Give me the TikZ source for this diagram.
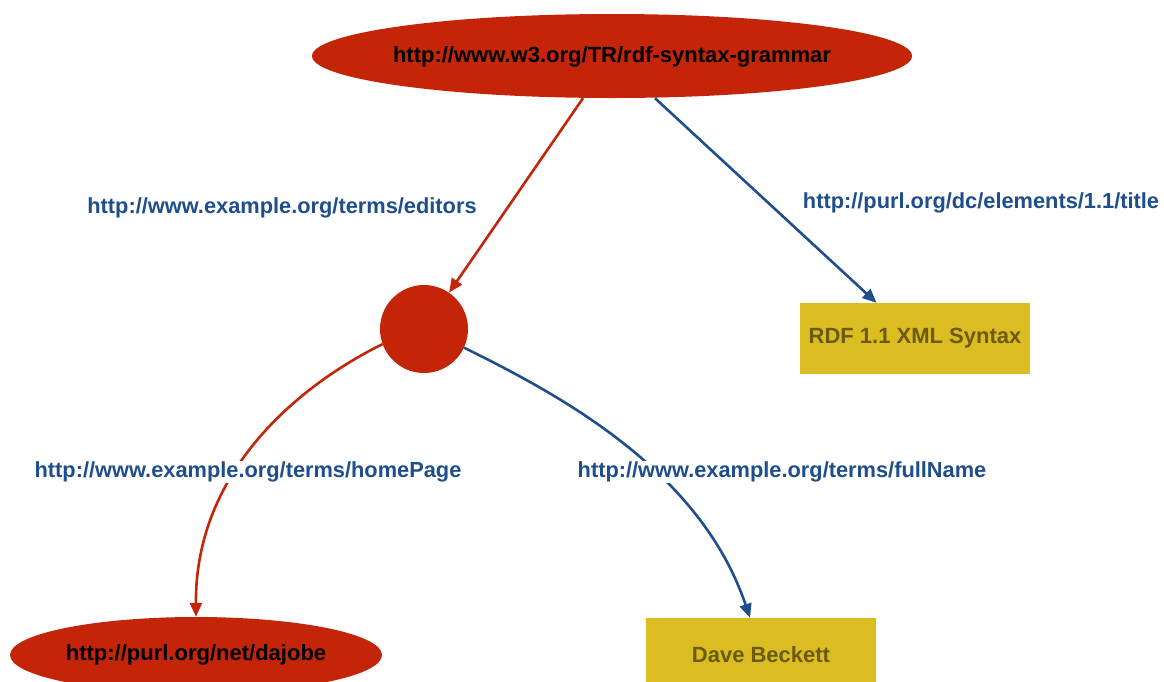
\documentclass[tikz,border=0pt]{standalone}
\usepackage{fontspec}
\setmainfont{Liberation Sans}
\usetikzlibrary{arrows.meta,shapes.geometric,calc}
\definecolor{rdfred}{HTML}{C42508}
\definecolor{rdfyellow}{HTML}{DBBD22}
\definecolor{rdfblue}{HTML}{1F4E8C}
\definecolor{litext}{HTML}{6B5A10}
\tikzset{
  res/.style={ellipse, fill=rdfred, inner sep=0pt},
  restext/.style={text=black, inner sep=0pt, font=\fontsize{22}{26}\selectfont\bfseries},
  blank/.style={circle, fill=rdfred, minimum size=88pt, inner sep=0pt},
  lit/.style={rectangle, fill=rdfyellow, inner sep=0pt},
  littext/.style={text=litext, inner sep=0pt, font=\fontsize{22}{26}\selectfont\bfseries},
  lbl/.style={fill=white, inner sep=1pt, text=rdfblue, font=\fontsize{21.8}{26}\selectfont\bfseries},
  redarc/.style={draw=rdfred, line width=2.6pt, -{Triangle[length=14pt,width=12pt]}},
  bluearc/.style={draw=rdfblue, line width=2.6pt, -{Triangle[length=14pt,width=12pt]}},
}
\begin{document}
\begin{tikzpicture}[x=1pt,y=-1pt]
\useasboundingbox (0,0) rectangle (1164,681);
\clip (0,0) rectangle (1164,681);
\node[res, minimum width=600pt, minimum height=84pt] (top) at (612,56) {};
\node[restext] (topt) at (612,57) {http://www.w3.org/TR/rdf-syntax-grammar};
\node[blank] (bn) at (424,329) {};
\node[lit, minimum width=230pt, minimum height=71pt] (rdf) at (915,338.5) {};
\node[littext] (rdft) at (915,338.5) {RDF 1.1 XML Syntax};
\node[res, minimum width=372pt, minimum height=76pt] (daj) at (196,655) {};
\node[restext] (dajt) at (196,655) {http://purl.org/net/dajobe};
\node[lit, minimum width=230pt, minimum height=74pt] (dave) at (761,655) {};
\node[littext] (davet) at (761,655) {Dave Beckett};

\draw[redarc] ([xshift=-29pt]top.south) -- (bn);
\draw[bluearc] ([xshift=43pt]top.south) -- (rdf);
\draw[redarc] (bn.200) .. controls (300,385) and (195,470) .. (daj.north);
\draw[bluearc] (bn.335) .. controls (560,395) and (700,470) .. ([xshift=-11pt]dave.north);

\node[lbl] (l1) at (282,208) {http://www.example.org/terms/editors};
\node[lbl] (l2) at (981,203) {http://purl.org/dc/elements/1.1/title};
\node[lbl] (l3) at (248,472) {http://www.example.org/terms/homePage};
\node[lbl] (l4) at (782,472) {http://www.example.org/terms/fullName};
\end{tikzpicture}
\end{document}
